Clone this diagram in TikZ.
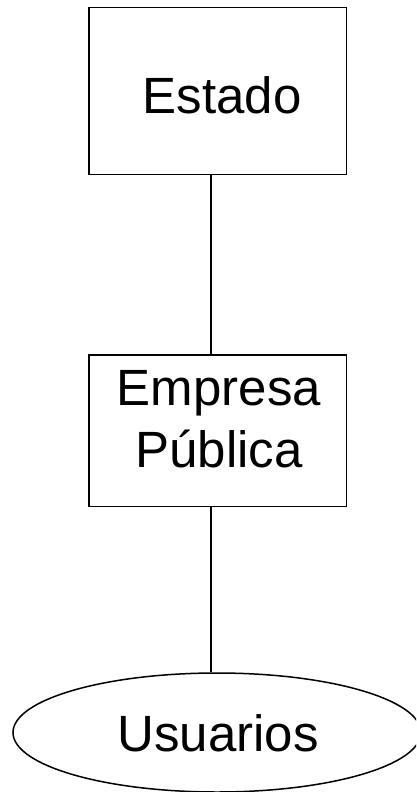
\documentclass[tikz,border=0pt]{standalone}
\usepackage{fontspec}
\setmainfont{Liberation Sans}
\usetikzlibrary{shapes.geometric}
\begin{document}
\begin{tikzpicture}[x=1pt,y=-1pt,
  box/.style={draw, line width=1.5pt, rectangle, inner sep=0pt, minimum width=257.5pt},
  oval/.style={draw, line width=1.5pt, ellipse, inner sep=0pt, minimum width=408pt, minimum height=119pt},
  lbl/.style={anchor=base, inner sep=0pt, font=\fontsize{51}{62}\selectfont},
  link/.style={line width=1.5pt}]
\useasboundingbox (0,0) rectangle (416,792);
\clip (0,0) rectangle (416,792);
\node[box, minimum height=166.8pt] (estado) at (217.75,90.9) {};
\node[box, minimum height=151.5pt] (empresa) at (217.75,430.75) {};
\node[oval] (usuarios) at (217,732.5) {};
\node[lbl] (testado) at (222,113) {Estado};
\node[lbl, align=center] (tempresa) at (219,467) {Empresa\\Pública};
\node[lbl] (tusuarios) at (218,751.5) {Usuarios};
\coordinate (axis) at (211,0);
\draw[link] (estado.south -| axis) -- (empresa.north -| axis);
\draw[link] (empresa.south -| axis) -- (usuarios.north -| axis);
\end{tikzpicture}
\end{document}
